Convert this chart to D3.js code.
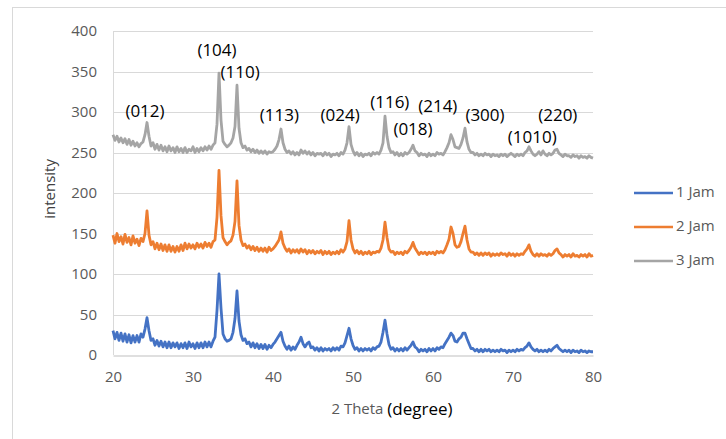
<!DOCTYPE html>
<html>
<head>
<meta charset="utf-8">
<script src="https://cdn.jsdelivr.net/npm/d3@7"></script>
<style>
  body { margin: 0; background: #fff; }
  svg { display: block; font-family: "Open Sans", sans-serif; }
</style>
</head>
<body>
<div id="chart"></div>
<script>
// 2 theta grid, 0.25 degree steps from 20 to 80
var theta = d3.range(0, 241).map(function(i){ return 20 + i * 0.25; });

// 1 Jam
var jam1 = [
  30,20,28,18, 27,17,26,16, 25,15,24,16, 24,16,26,22, 32,46,30,18,
  20,12,18,11, 17,10,16,9, 16,9,15,10, 15,8,14,9, 15,8,16,10,
  14,8,15,9, 15,9,16,10, 16,10,17,22, 55,100,58,26, 20,17,18,20,
  28,45,79,42, 25,18,20,14, 16,10,15,9, 14,8,13,8, 13,7,12,9,
  13,16,20,24, 28,17,11,7, 11,6,10,7, 12,16,22,14, 10,14,16,9,
  10,6,9,5, 9,5,8,6, 8,5,9,6, 9,6,11,10, 15,24,33,20,
  12,7,9,5, 8,5,8,6, 8,5,9,7, 10,11,16,28, 43,26,13,7,
  9,5,8,5, 8,5,9,6, 9,12,16,10, 8,4,7,5, 7,4,8,5,
  8,5,9,7, 10,9,14,18, 22,27,24,17, 16,20,22,27, 27,20,14,8,
  8,5,7,4, 7,4,7,5, 7,4,6,4, 6,4,7,5, 6,3,6,4,
  6,4,7,5, 7,6,9,11, 15,10,7,5, 7,4,6,4, 6,4,7,5,
  8,10,12,8, 6,4,6,4, 6,3,6,4, 5,3,6,4, 5,3,5,4,
  4
];

// 2 Jam
var jam2 = [
  148,138,150,140, 146,137,149,139, 145,136,147,138, 143,135,144,140, 150,178,148,136,
  140,131,138,130, 137,129,136,128, 136,128,134,127, 134,128,136,129, 138,131,137,132,
  136,131,138,133, 137,132,139,134, 138,133,140,142, 170,228,172,145, 140,136,139,141,
  148,165,215,160, 142,135,137,132, 135,130,134,129, 133,128,132,128, 132,127,133,129,
  131,134,138,142, 152,138,132,128, 131,126,130,127, 130,126,131,127, 130,125,129,126,
  129,125,128,126, 129,124,128,125, 128,124,127,125, 128,125,130,127, 131,140,166,142,
  131,126,129,125, 128,124,127,125, 128,124,127,126, 128,127,132,142, 164,145,131,127,
  128,124,127,125, 127,124,128,126, 129,133,139,132, 128,124,127,125, 127,124,127,125,
  127,124,128,126, 128,126,130,136, 143,158,150,136, 133,134,140,150, 159,142,131,127,
  127,124,126,123, 126,123,126,124, 126,122,125,123, 125,123,126,124, 125,122,126,123,
  125,122,125,123, 125,124,128,131, 136,128,124,122, 125,122,125,123, 124,122,125,123,
  125,129,131,126, 124,121,124,122, 124,121,125,122, 123,121,124,122, 124,121,125,122,
  123
];

// 3 Jam
var jam3 = [
  272,265,270,263, 268,262,267,260, 266,259,264,258, 262,257,261,263, 272,287,270,258,
  262,254,260,253, 259,252,257,251, 258,252,256,250, 257,251,255,250, 256,250,254,252,
  257,250,255,251, 256,252,257,253, 258,254,259,262, 285,348,290,264, 260,257,259,262,
  268,282,333,280, 262,256,258,253, 255,251,254,250, 253,249,252,249, 252,248,251,250,
  251,254,258,266, 279,262,254,250, 252,248,251,247, 250,247,253,249, 252,248,251,247,
  250,246,249,248, 249,246,250,247, 249,245,248,247, 249,246,250,248, 253,262,282,260,
  252,247,250,246, 249,245,248,247, 249,246,250,248, 250,248,253,262, 295,270,256,250,
  251,247,250,246, 249,246,250,248, 250,254,259,252, 250,246,249,247, 248,245,249,246,
  248,246,250,248, 249,247,251,256, 262,272,266,257, 256,255,260,268, 280,263,254,250,
  250,247,249,246, 248,246,249,247, 248,245,248,246, 247,245,248,246, 248,245,247,249,
  247,245,248,246, 248,246,250,252, 257,252,248,246, 248,251,247,252, 248,246,249,247,
  249,253,254,249, 247,245,248,246, 246,244,247,245, 246,243,246,244, 245,243,246,244,
  243
];

var seriesNames = ["1 Jam", "2 Jam", "3 Jam"];
var seriesColors = ["#4472C4", "#ED7D31", "#A5A5A5"];
var yTicks = [0, 50, 100, 150, 200, 250, 300, 350, 400];
var xTicks = [20, 30, 40, 50, 60, 70, 80];

// peak labels (miller indices) with label anchor position in data units
var peakLabels = ["(012)", "(104)", "(110)", "(113)", "(024)", "(116)", "(018)", "(214)", "(300)", "(1010)", "(220)"];
var peakLabelX = [24.0, 33.0, 35.9, 40.8, 48.4, 54.6, 57.5, 60.6, 66.5, 72.4, 75.6];
var peakLabelY = [300, 375, 347, 295, 295, 310, 277, 305, 295, 267, 294];

var width = 726, height = 439;
var margin = { top: 31, right: 133, bottom: 84, left: 113 };

var svg = d3.select("#chart").append("svg")
  .attr("width", width)
  .attr("height", height);

svg.append("rect")
  .attr("x", 12.5).attr("y", 7.5)
  .attr("width", width).attr("height", height)
  .attr("fill", "#fff")
  .attr("stroke", "#d9d9d9");

var x = d3.scaleLinear().domain([20, 80]).range([margin.left, width - margin.right]);
var y = d3.scaleLinear().domain([0, 400]).range([height - margin.bottom, margin.top]);

// gridlines
svg.append("g")
  .selectAll("line")
  .data(yTicks.slice(1))
  .join("line")
    .attr("x1", x(20)).attr("x2", x(80))
    .attr("y1", d => Math.round(y(d)) + 0.5).attr("y2", d => Math.round(y(d)) + 0.5)
    .attr("stroke", "#d9d9d9");

// left edge line
svg.append("line")
  .attr("x1", x(20) + 0.5).attr("x2", x(20) + 0.5)
  .attr("y1", y(400)).attr("y2", y(0))
  .attr("stroke", "#d9d9d9");

var yAxis = svg.append("g")
  .attr("transform", "translate(" + x(20) + ",0)")
  .call(d3.axisLeft(y).tickValues(yTicks).tickSize(0).tickPadding(16));
yAxis.select(".domain").remove();
yAxis.selectAll("text").attr("font-size", "15px").attr("fill", "#595959").attr("font-family", "Open Sans");

var xAxis = svg.append("g")
  .attr("transform", "translate(0," + (Math.round(y(0)) + 0.5) + ")")
  .call(d3.axisBottom(x).tickValues(xTicks).tickSize(0).tickPadding(16));
xAxis.select(".domain").attr("stroke", "#bfbfbf");
xAxis.selectAll("text").attr("font-size", "15px").attr("fill", "#595959").attr("font-family", "Open Sans");

// lines
var line = d3.line()
  .x((d, i) => x(theta[i]))
  .y(d => y(d));

[jam1, jam2, jam3].forEach(function(s, k) {
  svg.append("path")
    .datum(s)
    .attr("fill", "none")
    .attr("stroke", seriesColors[k])
    .attr("stroke-width", 2.8)
    .attr("stroke-linejoin", "round")
    .attr("d", line);
});

// peak labels
svg.append("g")
  .selectAll("text")
  .data(peakLabels)
  .join("text")
    .attr("x", (d, i) => x(peakLabelX[i]))
    .attr("y", (d, i) => y(peakLabelY[i]))
    .attr("text-anchor", "middle")
    .attr("dominant-baseline", "middle")
    .attr("font-size", "17px")
    .attr("fill", "#000")
    .text(d => d);

// axis titles
svg.append("text")
  .attr("transform", "translate(51," + y(205) + ") rotate(-90)")
  .attr("text-anchor", "middle")
  .attr("dominant-baseline", "middle")
  .attr("font-size", "15px")
  .attr("fill", "#404040")
  .text("intensity");

var xt = svg.append("text")
  .attr("x", 392)
  .attr("y", 410)
  .attr("text-anchor", "middle")
  .attr("dominant-baseline", "middle");
xt.append("tspan").attr("font-size", "15px").attr("fill", "#595959").text("2 Theta ");
xt.append("tspan").attr("font-size", "17px").attr("fill", "#000").text("(degree)");

// legend
var legend = svg.append("g")
  .selectAll("g")
  .data(seriesNames)
  .join("g")
    .attr("transform", (d, i) => "translate(634," + (193 + i * 34) + ")");
legend.append("line")
  .attr("x1", 0).attr("x2", 39)
  .attr("stroke", (d, i) => seriesColors[i])
  .attr("stroke-width", 2.5);
legend.append("text")
  .attr("x", 42)
  .attr("dominant-baseline", "middle")
  .attr("font-size", "15px")
  .attr("fill", "#595959")
  .text(d => d);
</script>
</body>
</html>
